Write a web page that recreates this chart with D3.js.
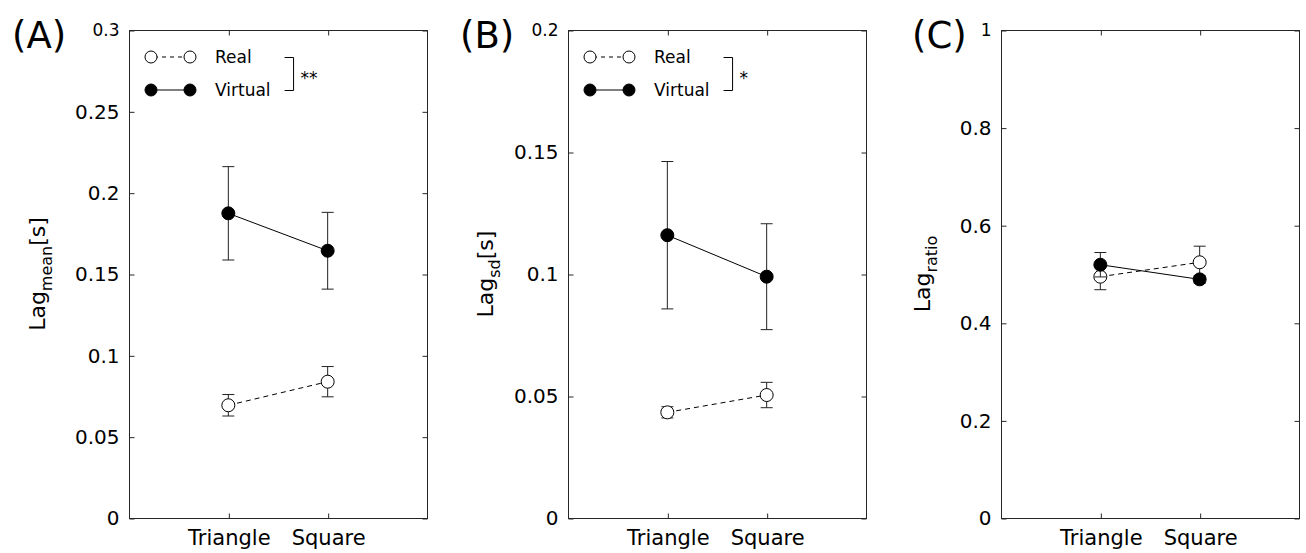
<!DOCTYPE html>
<html>
<head>
<meta charset="utf-8">
<script src="https://cdn.jsdelivr.net/npm/d3@7"></script>
<style>
  body { margin: 0; background: #fff; }
  text { font-family: "DejaVu Sans", sans-serif; fill: #000; }
</style>
</head>
<body>
<svg id="chart" width="1306" height="553"></svg>
<script>
// categories on the x axis
var categories = ['Triangle', 'Square'];
var seriesNames = ['Real', 'Virtual'];

// (A) Lag mean
var realMeanA = [0.0693, 0.0838];
var realErrA = [0.0066, 0.0093];
var virtualMeanA = [0.1873, 0.1643];
var virtualErrA = [0.0287, 0.0236];
var yTicksA = [0, 0.05, 0.1, 0.15, 0.2, 0.25, 0.3];

// (B) Lag sd
var realMeanB = [0.0433, 0.0504];
var realErrB = [0.0023, 0.0052];
var virtualMeanB = [0.1159, 0.0989];
var virtualErrB = [0.0302, 0.0217];
var yTicksB = [0, 0.05, 0.1, 0.15, 0.2];

// (C) Lag ratio
var realMeanC = [0.4945, 0.524];
var realErrC = [0.0267, 0.033];
var virtualMeanC = [0.519, 0.489];
var virtualErrC = [0.025, 0.008];
var yTicksC = [0, 0.2, 0.4, 0.6, 0.8, 1];

var svg = d3.select('#chart');
var axisColor = '#262626';

var top0 = 30, bottom0 = 518, plotW = 298;

var panels = [
  { tag: '(A)', tagX: 12, left: 129, ticks: yTicksA, real: realMeanA, realErr: realErrA,
    virt: virtualMeanA, virtErr: virtualErrA, sub: 'mean', unit: '[s]', labelX: 45, stars: '**' },
  { tag: '(B)', tagX: 460, left: 568, ticks: yTicksB, real: realMeanB, realErr: realErrB,
    virt: virtualMeanB, virtErr: virtualErrB, sub: 'sd', unit: '[s]', labelX: 493, stars: '*' },
  { tag: '(C)', tagX: 912, left: 1001, ticks: yTicksC, real: realMeanC, realErr: realErrC,
    virt: virtualMeanC, virtErr: virtualErrC, sub: 'ratio', unit: '', labelX: 930, stars: null }
];

panels.forEach(function(p) {
  var g = svg.append('g');
  var x = d3.scaleLinear().domain([0, 3]).range([p.left, p.left + plotW]);
  var y = d3.scaleLinear().domain([0, d3.max(p.ticks)]).range([bottom0, top0]);

  var fmt = function(d) { return String(+d.toFixed(2)); };

  // box
  g.append('rect')
    .attr('x', p.left + 0.5).attr('y', top0 + 0.5)
    .attr('width', plotW).attr('height', bottom0 - top0)
    .attr('fill', 'none').attr('stroke', axisColor).attr('stroke-width', 1);

  var left = g.append('g').attr('transform', 'translate(' + (p.left + 0.5) + ',0.5)')
    .call(d3.axisLeft(y).tickValues(p.ticks).tickFormat(fmt).tickSize(-5).tickPadding(10));
  var right = g.append('g').attr('transform', 'translate(' + (p.left + plotW + 0.5) + ',0.5)')
    .call(d3.axisRight(y).tickValues(p.ticks).tickFormat('').tickSize(-5));
  var bottom = g.append('g').attr('transform', 'translate(0.5,' + (bottom0 + 0.5) + ')')
    .call(d3.axisBottom(x).tickValues([1, 2]).tickFormat(function(d) { return categories[d - 1]; })
      .tickSize(-5).tickPadding(12));
  var topAx = g.append('g').attr('transform', 'translate(0.5,' + (top0 + 0.5) + ')')
    .call(d3.axisTop(x).tickValues([1, 2]).tickFormat('').tickSize(-5));

  [left, right, bottom, topAx].forEach(function(a) {
    a.select('.domain').remove();
    a.selectAll('line').attr('stroke', axisColor);
    a.selectAll('text').style('font-family', '"DejaVu Sans", sans-serif').attr('fill', '#000');
  });
  left.selectAll('text').attr('font-size', 20);
  // the top tick label is a touch smaller in the original
  left.selectAll('.tick').filter(function(d) { return d === d3.max(p.ticks); })
    .select('text').attr('font-size', 17);
  bottom.selectAll('text').attr('font-size', 21).attr('dy', '0.7em');

  // panel tag
  g.append('text').attr('x', p.tagX).attr('y', 48).attr('font-size', 37).text(p.tag);

  // y label
  var yl = g.append('text')
    .attr('transform', 'translate(' + p.labelX + ',' + ((top0 + bottom0) / 2) + ') rotate(-90)')
    .attr('text-anchor', 'middle').attr('font-size', 22);
  yl.append('tspan').text('Lag');
  yl.append('tspan').attr('font-size', 16).attr('dy', 7).text(p.sub);
  if (p.unit) yl.append('tspan').attr('dy', -7).text(p.unit);

  // series
  var series = [
    { mean: p.real, err: p.realErr, fill: '#fff', dash: '5,4' },
    { mean: p.virt, err: p.virtErr, fill: '#000', dash: null }
  ];
  var line = d3.line().x(function(d, i) { return x(i + 1); }).y(function(d) { return y(d); });

  series.forEach(function(s) {
    var pts = s.mean.map(function(m, i) { return { i: i + 1, m: m, e: s.err[i] }; });
    var eb = g.append('g').attr('stroke', '#222').attr('stroke-width', 1);
    eb.selectAll('.v').data(pts).enter().append('line')
      .attr('x1', function(d) { return x(d.i); }).attr('x2', function(d) { return x(d.i); })
      .attr('y1', function(d) { return y(d.m - d.e); }).attr('y2', function(d) { return y(d.m + d.e); });
    eb.selectAll('.lo').data(pts).enter().append('line')
      .attr('x1', function(d) { return x(d.i) - 6; }).attr('x2', function(d) { return x(d.i) + 6; })
      .attr('y1', function(d) { return y(d.m - d.e); }).attr('y2', function(d) { return y(d.m - d.e); });
    eb.selectAll('.hi').data(pts).enter().append('line')
      .attr('x1', function(d) { return x(d.i) - 6; }).attr('x2', function(d) { return x(d.i) + 6; })
      .attr('y1', function(d) { return y(d.m + d.e); }).attr('y2', function(d) { return y(d.m + d.e); });

    g.append('path').datum(s.mean).attr('d', line)
      .attr('fill', 'none').attr('stroke', '#000').attr('stroke-width', 1)
      .attr('stroke-dasharray', s.dash);

    g.selectAll(null).data(pts).enter().append('circle')
      .attr('cx', function(d) { return x(d.i); }).attr('cy', function(d) { return y(d.m); })
      .attr('r', 6.5).attr('fill', s.fill).attr('stroke', '#000').attr('stroke-width', 1);
  });

  // legend + significance bracket (only A and B)
  if (p.stars) {
    var rows = [top0 + 27, top0 + 60];
    var widths = [];
    seriesNames.forEach(function(name, k) {
      var s = series[k];
      var cy = rows[k];
      g.append('line').attr('x1', p.left + 22).attr('x2', p.left + 61)
        .attr('y1', cy).attr('y2', cy).attr('stroke', '#000').attr('stroke-width', 1)
        .attr('stroke-dasharray', s.dash ? '4,4' : null)
        .attr('stroke-dashoffset', s.dash ? -3 : null);
      [p.left + 22, p.left + 61].forEach(function(cx) {
        g.append('circle').attr('cx', cx).attr('cy', cy).attr('r', 6)
          .attr('fill', s.fill).attr('stroke', '#000');
      });
      var t = g.append('text').attr('x', p.left + 86).attr('y', cy + 6)
        .attr('font-size', 17).text(name);
      widths.push(t.node().getComputedTextLength());
    });
    var bx = p.left + 86 + d3.max(widths) + 14;
    g.append('path')
      .attr('d', 'M' + bx + ',' + (rows[0] + 0.5) + 'H' + (bx + 9) + 'V' + (rows[1] + 0.5) + 'H' + bx)
      .attr('fill', 'none').attr('stroke', '#000').attr('stroke-width', 1);
    g.append('text').attr('x', bx + 16).attr('y', (rows[0] + rows[1]) / 2 + 10)
      .attr('font-size', 17).text(p.stars);
  }
});
</script>
</body>
</html>
